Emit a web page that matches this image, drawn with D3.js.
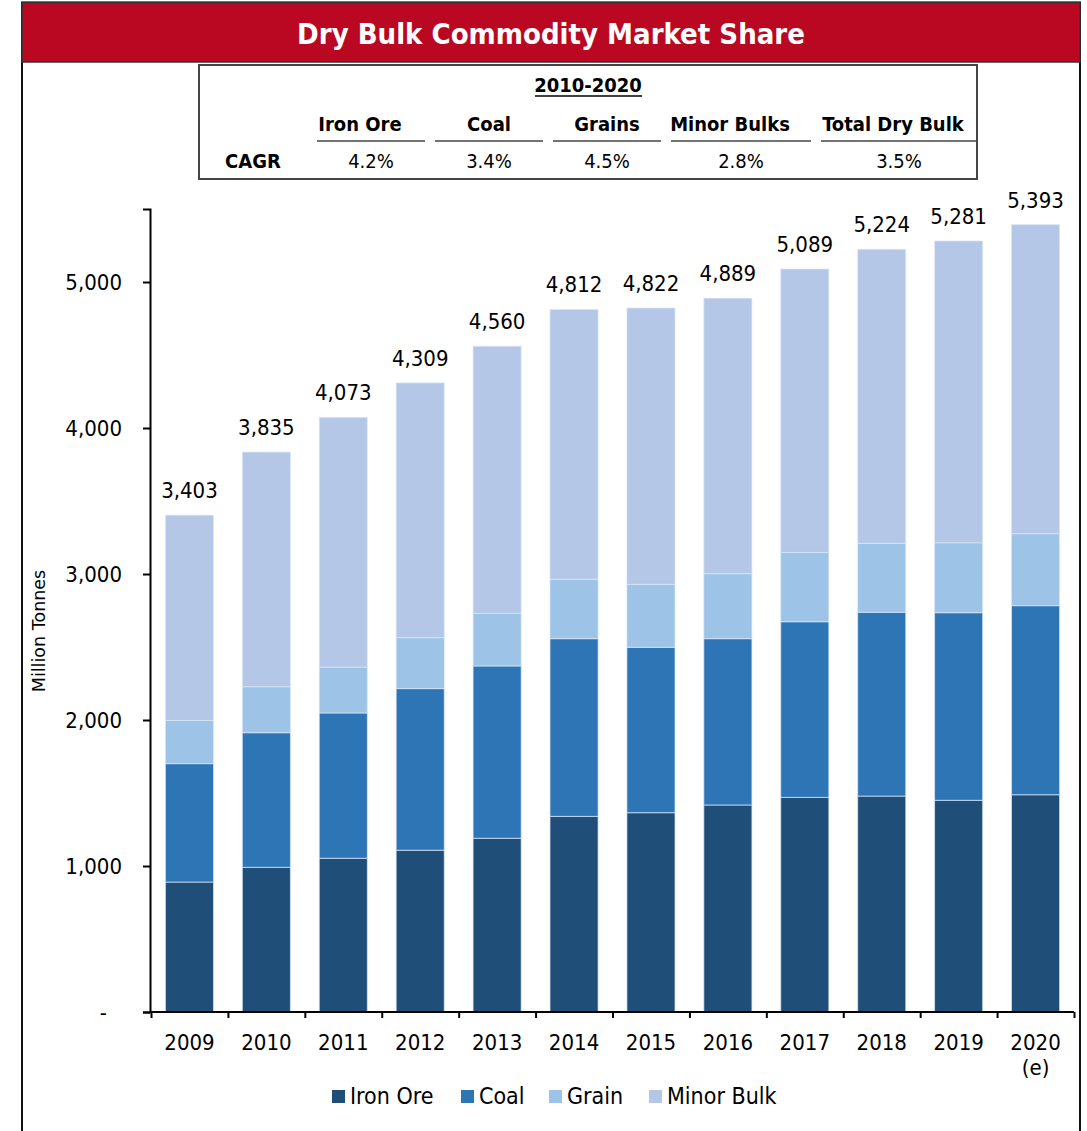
<!DOCTYPE html>
<html>
<head>
<meta charset="utf-8">
<script src="https://cdn.jsdelivr.net/npm/d3@7/dist/d3.min.js"></script>
<style>
  html, body { margin: 0; padding: 0; background: #fff; }
  svg { display: block; }
  text { font-family: "DejaVu Sans Condensed", "DejaVu Sans", sans-serif; font-stretch: condensed; fill: #000; }
  text.axis-title { font-family: "DejaVu Sans", sans-serif; font-stretch: normal; }
</style>
</head>
<body>
<svg id="chart" width="1087" height="1131"></svg>
<script>
// Dry bulk seaborne trade by commodity, million tonnes
const years = ["2009", "2010", "2011", "2012", "2013", "2014", "2015", "2016", "2017", "2018", "2019", "2020 (e)"];
const ironOre   = [890, 991, 1053, 1108, 1190, 1340, 1365, 1418, 1470, 1479, 1450, 1488];
const coal      = [811, 922, 995, 1107, 1180, 1217, 1133, 1139, 1203, 1259, 1285, 1295];
const grain     = [296, 315, 315, 349, 361, 407, 431, 445, 475, 472, 479, 493];
const minorBulk = [1406, 1607, 1710, 1745, 1829, 1848, 1893, 1887, 1941, 2014, 2067, 2117];
const totals    = [3403, 3835, 4073, 4309, 4560, 4812, 4822, 4889, 5089, 5224, 5281, 5393];

const seriesNames = ["Iron Ore", "Coal", "Grain", "Minor Bulk"];
const seriesColors = ["#1F4E79", "#2E75B6", "#9DC3E6", "#B4C7E7"];
const yTicks = [0, 1000, 2000, 3000, 4000, 5000];

// CAGR summary table
const cagrPeriod = "2010-2020";
const cagrHeaders = ["Iron Ore", "Coal", "Grains", "Minor Bulks", "Total Dry Bulk"];
const cagrValues = ["4.2%", "3.4%", "4.5%", "2.8%", "3.5%"];

const svg = d3.select("#chart");

// Frame and title bar
svg.append("rect").attr("x", 22).attr("y", 2.5).attr("width", 1058).attr("height", 1140)
  .attr("fill", "none").attr("stroke", "#111").attr("stroke-width", 2);
svg.append("rect").attr("x", 22).attr("y", 2.5).attr("width", 1058).attr("height", 59.5)
  .attr("fill", "#BA0823").attr("stroke", "#333").attr("stroke-width", 1.5);
svg.append("text").attr("x", 551).attr("y", 44).attr("text-anchor", "middle")
  .attr("font-size", 29).attr("font-weight", "bold").style("fill", "#fff")
  .text("Dry Bulk Commodity Market Share");

// CAGR table
const tbl = svg.append("g");
tbl.append("rect").attr("x", 199).attr("y", 65).attr("width", 778).attr("height", 114)
  .attr("fill", "#fff").attr("stroke", "#444").attr("stroke-width", 2);
tbl.append("text").attr("x", 588).attr("y", 92).attr("text-anchor", "middle")
  .attr("font-size", 20).attr("font-weight", "bold").text(cagrPeriod);
tbl.append("line").attr("x1", 535).attr("x2", 642).attr("y1", 96).attr("y2", 96)
  .attr("stroke", "#000").attr("stroke-width", 1.5);

const colSpans = [[317, 425], [435, 543], [553, 661], [671, 811], [821, 977]];
const headerX = [360, 489, 607, 730, 893];
cagrHeaders.forEach((h, i) => {
  tbl.append("text").attr("x", headerX[i]).attr("y", 131).attr("text-anchor", "middle")
    .attr("font-size", 20).attr("font-weight", "bold").text(h);
  tbl.append("line").attr("x1", colSpans[i][0]).attr("x2", colSpans[i][1])
    .attr("y1", 141).attr("y2", 141).attr("stroke", "#444").attr("stroke-width", 1.5);
  tbl.append("text").attr("x", (colSpans[i][0] + colSpans[i][1]) / 2).attr("y", 168)
    .attr("text-anchor", "middle").attr("font-size", 20).text(cagrValues[i]);
});
tbl.append("text").attr("x", 253).attr("y", 168).attr("text-anchor", "middle")
  .attr("font-size", 20).attr("font-weight", "bold").text("CAGR");

// Scales
const x = d3.scaleBand().domain(years).range([151, 1074]).paddingInner(0.375).paddingOuter(0.1875);
const y = d3.scaleLinear().domain([0, 5500]).range([1012, 209]);
const xEdges = d3.scaleLinear().domain([0, years.length]).range([151, 1074]);

// Stacked bars
const rows = years.map((yr, i) => ({ year: yr, "Iron Ore": ironOre[i], "Coal": coal[i], "Grain": grain[i], "Minor Bulk": minorBulk[i] }));
const stacked = d3.stack().keys(seriesNames)(rows);
const color = d3.scaleOrdinal().domain(seriesNames).range(seriesColors);

svg.append("g").selectAll("g").data(stacked).join("g")
  .attr("fill", d => color(d.key))
  .selectAll("rect").data(d => d).join("rect")
  .attr("x", d => x(d.data.year))
  .attr("y", d => y(d[1]))
  .attr("width", x.bandwidth())
  .attr("height", d => y(d[0]) - y(d[1]))
  .attr("stroke", "rgba(220,232,248,0.7)").attr("stroke-width", 1);

// Total labels
svg.append("g").selectAll("text").data(years).join("text")
  .attr("x", d => x(d) + x.bandwidth() / 2)
  .attr("y", (d, i) => y(totals[i]) - 17)
  .attr("text-anchor", "middle").attr("font-size", 22)
  .text((d, i) => d3.format(",")(totals[i]));

// Y axis
const yAxis = svg.append("g").attr("transform", "translate(150,0)")
  .call(d3.axisLeft(y).tickValues(yTicks).tickSize(7).tickPadding(21)
    .tickFormat(v => v === 0 ? "-" : d3.format(",")(v)));
yAxis.select(".domain").attr("stroke", "#000").attr("stroke-width", 2);
yAxis.selectAll(".tick line").attr("stroke", "#000").attr("stroke-width", 2);
yAxis.selectAll(".tick text").attr("font-size", 22).attr("font-family", null)
  .attr("dy", "0.35em");
yAxis.selectAll(".tick text").filter(v => v === 0).attr("dx", -15);

svg.append("text").attr("class", "axis-title").attr("transform", "translate(45,631) rotate(-90)")
  .attr("text-anchor", "middle").attr("font-size", 17.5)
  .text("Million Tonnes");

// X axis: boundary ticks and category labels
const xTicks = svg.append("g").attr("transform", "translate(0,1012)")
  .call(d3.axisBottom(xEdges).tickValues(d3.range(years.length + 1)).tickSize(6).tickFormat(""));
xTicks.select(".domain").attr("stroke", "#000").attr("stroke-width", 2).attr("d", "M150,0H1074");
xTicks.selectAll(".tick line").attr("stroke", "#000").attr("stroke-width", 2);

const xLabels = svg.append("g").attr("transform", "translate(0,1012)")
  .call(d3.axisBottom(x).tickSize(0).tickPadding(0).tickFormat(""));
xLabels.select(".domain").remove();
xLabels.selectAll(".tick").append("text")
  .attr("text-anchor", "middle").attr("font-size", 22)
  .each(function(d) {
    const parts = d.split(" ");
    const t = d3.select(this);
    parts.forEach((p, k) => t.append("tspan").attr("x", 0).attr("y", 38 + k * 25).text(p));
  });

// Legend
const legendX = [332, 461, 549, 649];
const legend = svg.append("g").selectAll("g").data(seriesNames).join("g")
  .attr("transform", (d, i) => `translate(${legendX[i]},1090)`);
legend.append("rect").attr("width", 13).attr("height", 13).attr("fill", d => color(d));
legend.append("text").attr("x", 18).attr("y", 14).attr("font-size", 23).text(d => d);
</script>
</body>
</html>
